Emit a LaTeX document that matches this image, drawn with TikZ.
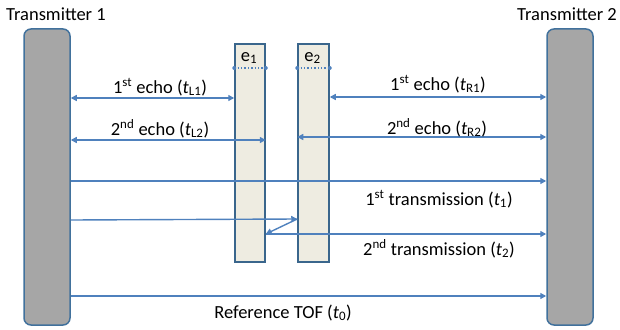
\documentclass[tikz,border=0pt]{standalone}
\usepackage{fontspec}
\setmainfont{Carlito}
\usetikzlibrary{arrows.meta}
\definecolor{lineblue}{HTML}{4F81BD}
\definecolor{edgeblue}{HTML}{41719C}
\definecolor{bargray}{HTML}{A6A6A6}
\definecolor{boxfill}{HTML}{EEECE1}
\begin{document}
\begin{tikzpicture}[x=1pt,y=-1pt,
  txbar/.style={draw=edgeblue, fill=bargray, line width=1.5pt, rounded corners=7pt, minimum width=46pt, minimum height=296pt, inner sep=0pt},
  ebox/.style={draw=edgeblue!90!black, fill=boxfill, line width=1.5pt, minimum height=218pt, inner sep=0pt},
  lbl/.style={font=\fontsize{18.5}{20}\selectfont, inner sep=0pt, anchor=base},
  conn/.style={draw=lineblue, line width=1.4pt},
  tip/.style={-{Triangle[length=6pt,width=6pt]}},
  dtip/.style={{Triangle[length=6pt,width=6pt]}-{Triangle[length=6pt,width=6pt]}},
  sep/.style={draw=lineblue, line width=1.4pt, dotted},
  dotend/.style={fill=lineblue, circle, inner sep=0pt, minimum size=4pt}
]
\useasboundingbox (0,0) rectangle (620,329);
\node[txbar] (T1) at (47,177) {};
\node[txbar] (T2) at (570,177) {};
\node[ebox, minimum width=30pt] (E1) at (250,153) {};
\node[ebox, minimum width=31pt] (E2) at (313.5,153) {};

\node[lbl] (L1) at (56,21) {Transmitter 1};
\node[lbl] (L2) at (567,21) {Transmitter 2};
\node[lbl] (Le1) at (249,61) {e\textsubscript{1}};
\node[lbl] (Le2) at (312.5,61) {e\textsubscript{2}};

% dotted separators
\coordinate (s1a) at (E1.west |- 0,68);
\coordinate (s1b) at (E1.east |- 0,68);
\coordinate (s2a) at (E2.west |- 0,68);
\coordinate (s2b) at (E2.east |- 0,68);
\draw[sep] (s1a) -- (s1b);
\draw[sep] (s2a) -- (s2b);
\node[dotend] (d1) at (s1a) {};
\node[dotend] (d2) at (s1b) {};
\node[dotend] (d3) at (s2a) {};
\node[dotend] (d4) at (s2b) {};

% echoes
\draw[conn,dtip] (T1.east |- 0,98) -- (E1.west |- 0,98);
\draw[conn,dtip] (T1.east |- 0,140) -- (E1.east |- 0,140);
\draw[conn,dtip] (E2.east |- 0,97) -- (T2.west |- 0,97);
\draw[conn,dtip] (E2.west |- 0,137) -- (T2.west |- 0,137);

% transmissions
\draw[conn,tip] (T1.east |- 0,181) -- (T2.west |- 0,181);
\coordinate (r2) at (E2.west |- 0,219);
\coordinate (r1) at (E1.east |- 0,234);
\draw[conn,tip] (T1.east |- 0,220) -- (r2);
\draw[conn,tip] (r2) -- (r1);
\draw[conn,tip] (r1) -- (T2.west |- 0,234);
\draw[conn,tip] (T1.east |- 0,296) -- (T2.west |- 0,296);

% labels
\node[lbl] (a1) at (160,93) {1\textsuperscript{st} echo (\textit{t}\textsubscript{L1})};
\node[lbl] (a2) at (160,135) {2\textsuperscript{nd} echo (\textit{t}\textsubscript{L2})};
\node[lbl] (a3) at (438,90) {1\textsuperscript{st} echo (\textit{t}\textsubscript{R1})};
\node[lbl] (a4) at (437,134) {2\textsuperscript{nd} echo (\textit{t}\textsubscript{R2})};
\node[lbl] (a5) at (439,205) {1\textsuperscript{st} transmission (\textit{t}\textsubscript{1})};
\node[lbl] (a6) at (439,255) {2\textsuperscript{nd} transmission (\textit{t}\textsubscript{2})};
\node[lbl] (a7) at (283,318) {Reference TOF (\textit{t}\textsubscript{0})};
\end{tikzpicture}
\end{document}
